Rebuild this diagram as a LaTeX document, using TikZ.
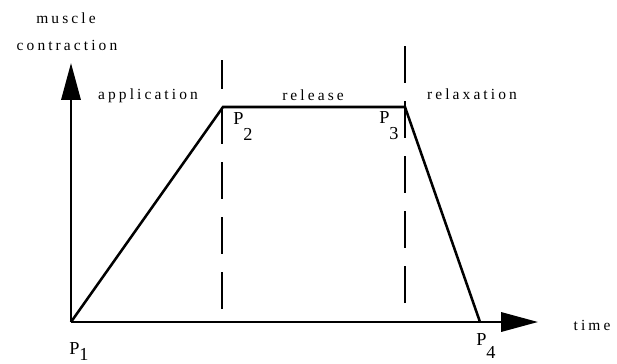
\documentclass[tikz,border=0pt]{standalone}
\usepackage{fontspec}
\setmainfont{Liberation Serif}
\usetikzlibrary{arrows.meta}

\begin{document}
\begin{tikzpicture}[x=0.025cm,y=-0.025cm,>={Triangle[length=0.92cm,width=0.48cm]},line width=1.8pt,
 lbl/.style={font=\fontsize{11}{13}\selectfont\addfontfeatures{LetterSpace=20},anchor=base,inner sep=0pt},
 pt/.style={font=\fontsize{13}{15}\selectfont,anchor=base west,inner sep=0pt},
 phase/.style={dash pattern=on 0.925cm off 0.45cm}]
\useasboundingbox (0,0) rectangle (617,363);
\coordinate (P1) at (71,322);
\coordinate (P2) at (223,107);
\coordinate (P3) at (405,107);
\coordinate (P4) at (480,322);
\coordinate (ytip) at (71,63);
\coordinate (xtip) at (538,322);
\coordinate (d1b) at (222,309);
\coordinate (d1t) at (222,60);
\coordinate (d2b) at (405,303);
\coordinate (d2t) at (405,46);
\draw[->] (P1) -- (ytip);
\draw[->] (P1) -- (xtip);
\draw[line join=miter] (P1) -- (P2) -- (P3) -- (P4);
\draw[phase] (d1b) -- (d1t);
\draw[phase] (d2b) -- (d2t);
\node[lbl] (ylab1) at (66,23) {muscle};
\node[lbl] (ylab2) at (67,50) {contraction};
\node[lbl] (xlab) at (592,330) {time};
\node[lbl] (app) at (148,99) {application};
\node[lbl] (rel) at (313,100) {release};
\node[lbl] (relax) at (472,99) {relaxation};
\node[pt] (p1) at (68,354) {P\raisebox{-0.17cm}{1}};
\node[pt] (p2) at (232,124) {P\raisebox{-0.42cm}{2}};
\node[pt] (p3) at (378,123) {P\raisebox{-0.42cm}{3}};
\node[pt] (p4) at (475,345) {P\raisebox{-0.34cm}{4}};
\end{tikzpicture}
\end{document}
